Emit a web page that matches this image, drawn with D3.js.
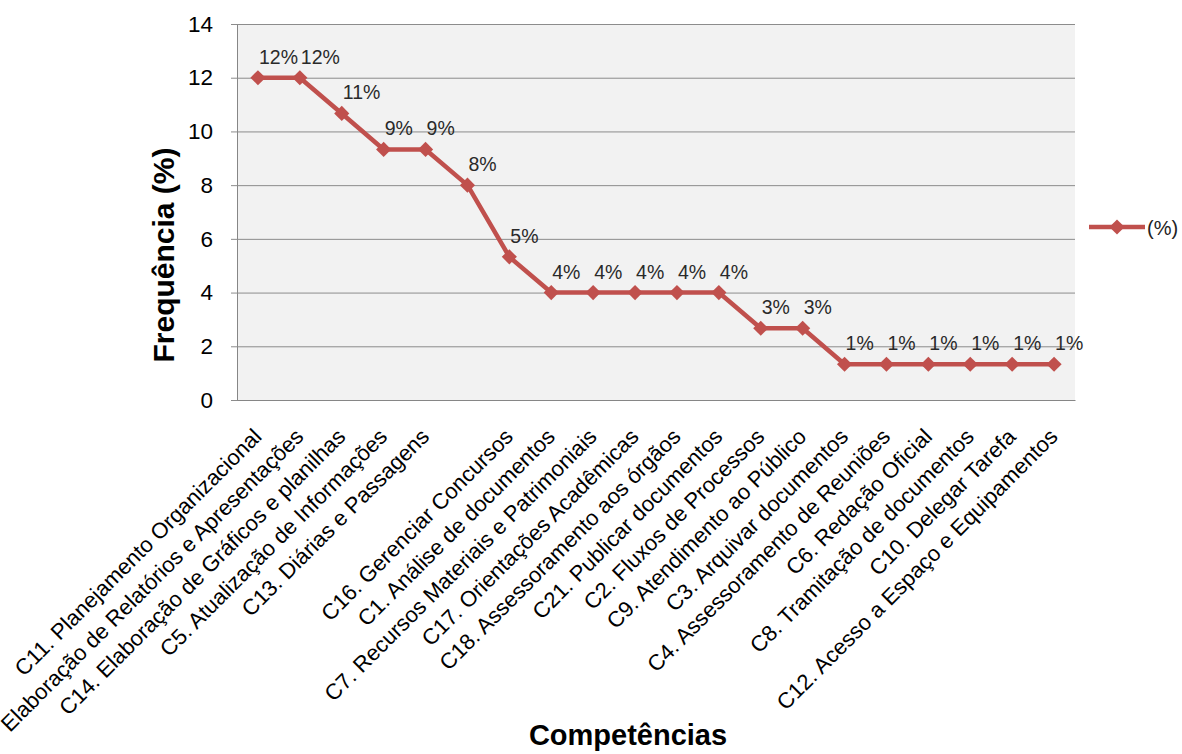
<!DOCTYPE html>
<html>
<head>
<meta charset="utf-8">
<script src="https://cdn.jsdelivr.net/npm/d3@7"></script>
<style>
  body { margin: 0; background: #fff; }
  svg { display: block; font-family: "Liberation Sans", Arial, sans-serif; }
</style>
</head>
<body>
<svg id="canvas"></svg>
<script>
let categories = [
    "C11. Planejamento Organizacional",
    "Elaboração de Relatórios e Apresentações",
    "C14. Elaboração de Gráficos e planilhas",
    "C5. Atualização de Informações",
    "C13. Diárias e Passagens",
    "",
    "C16. Gerenciar Concursos",
    "C1. Análise de documentos",
    "C7. Recursos Materiais e Patrimoniais",
    "C17. Orientações Acadêmicas",
    "C18. Assessoramento aos órgãos",
    "C21. Publicar documentos",
    "C2. Fluxos de Processos",
    "C9. Atendimento ao Público",
    "C3. Arquivar documentos",
    "C4. Assessoramento de Reuniões",
    "C6. Redação Oficial",
    "C8. Tramitação de documentos",
    "C10. Delegar Tarefa",
    "C12. Acesso a Espaço e Equipamentos"
];
let values = [12, 12, 10.67, 9.33, 9.33, 8, 5.33, 4, 4, 4, 4, 4, 2.67, 2.67, 1.33, 1.33, 1.33, 1.33, 1.33, 1.33];
let valueLabels = ["12%", "12%", "11%", "9%", "9%", "8%", "5%", "4%", "4%", "4%", "4%", "4%", "3%", "3%", "1%", "1%", "1%", "1%", "1%", "1%"];
let yTicks = [0, 2, 4, 6, 8, 10, 12, 14];
let seriesName = "(%)";

let width = 1182;
let height = 754;
let plotLeft = 237, plotRight = 1075, plotTop = 24, plotBottom = 400;
let red = "#c0504d";

let canvas = d3.select("#canvas");
canvas.attr("width", width).attr("height", height);

let xScale = d3.scaleBand()
               .domain(d3.range(categories.length))
               .range([plotLeft, plotRight])
               .padding(0);
let yScale = d3.scaleLinear()
               .domain([0, 14])
               .range([plotBottom, plotTop]);

let cx = (i) => xScale(i) + xScale.bandwidth() / 2;

// plot background
canvas.append("rect")
      .attr("x", plotLeft).attr("y", plotTop)
      .attr("width", plotRight - plotLeft).attr("height", plotBottom - plotTop)
      .attr("fill", "#f2f2f2");

// gridlines + y axis
let yAxis = d3.axisLeft(yScale)
              .tickValues(yTicks)
              .tickSize(-(plotRight - plotLeft))
              .tickFormat(d3.format("d"));
let gy = canvas.append("g")
      .attr("transform", "translate(" + plotLeft + ",0)")
      .call(yAxis);
gy.select(".domain").attr("stroke", "#868686");
gy.selectAll(".tick line").attr("stroke", "#8c8c8c").attr("x1", -6);
gy.selectAll(".tick text")
  .attr("x", -24)
  .attr("fill", "#000")
  .style("font-size", "22.5px");

// x axis
let xAxis = d3.axisBottom(xScale)
              .tickSize(0)
              .tickFormat((i) => categories[i]);
let gx = canvas.append("g")
      .attr("transform", "translate(0," + plotBottom + ")")
      .call(xAxis);
gx.select(".domain").attr("stroke", "#868686");
gx.selectAll(".tick text")
  .attr("y", 0)
  .attr("dy", 0)
  .attr("text-anchor", "end")
  .attr("fill", "#000")
  .style("font-size", "22px")
  .attr("transform", "translate(5,38) rotate(-45)");

// line
let line = d3.line()
             .x((d, i) => cx(i))
             .y((d) => yScale(d));
canvas.append("path")
      .datum(values)
      .attr("d", line)
      .attr("fill", "none")
      .attr("stroke", red)
      .attr("stroke-width", 4.5)
      .attr("stroke-linejoin", "round");

let diamond = d3.symbol(d3.symbolSquare, 115);
canvas.selectAll(".marker")
      .data(values)
      .enter()
      .append("path")
      .attr("class", "marker")
      .attr("d", diamond)
      .attr("fill", red)
      .attr("transform", (d, i) => "translate(" + cx(i) + "," + yScale(d) + ") rotate(45)");

// value labels
canvas.selectAll(".vlabel")
      .data(values)
      .enter()
      .append("text")
      .attr("class", "vlabel")
      .attr("x", (d, i) => cx(i) + 1)
      .attr("y", (d) => yScale(d) - 14)
      .attr("fill", "#2a2a2a")
      .style("font-size", "19.5px")
      .text((d, i) => valueLabels[i]);

// axis titles
canvas.append("text")
      .attr("transform", "translate(174,255) rotate(-90)")
      .attr("text-anchor", "middle")
      .style("font-size", "30px")
      .style("font-weight", "bold")
      .text("Frequência (%)");

canvas.append("text")
      .attr("x", 628)
      .attr("y", 745)
      .attr("text-anchor", "middle")
      .style("font-size", "29px")
      .style("font-weight", "bold")
      .text("Competências");

// legend
let legend = canvas.append("g").attr("transform", "translate(1089,227)");
legend.append("line")
      .attr("x1", 0).attr("x2", 56)
      .attr("stroke", red).attr("stroke-width", 4.5);
legend.append("path")
      .attr("d", diamond)
      .attr("fill", red)
      .attr("transform", "translate(28,0) rotate(45)");
legend.append("text")
      .attr("x", 58)
      .attr("y", 8)
      .style("font-size", "20px")
      .attr("fill", "#222")
      .text(seriesName);
</script>
</body>
</html>
